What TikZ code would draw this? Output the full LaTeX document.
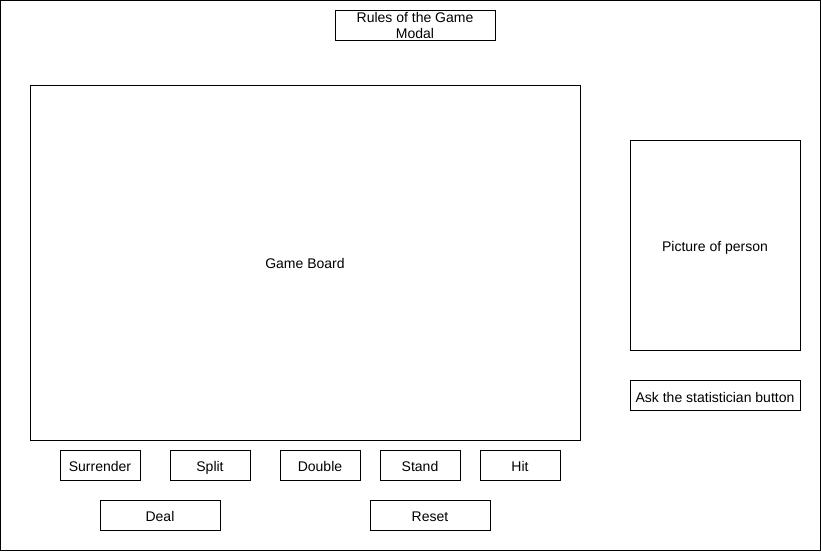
\documentclass[tikz,border=0pt]{standalone}
\usepackage{fontspec}
\setmainfont{Liberation Sans}
\usetikzlibrary{positioning}

\begin{document}
\begin{tikzpicture}[x=1pt,y=-1pt,line width=0.8pt]
\tikzstyle{every node}+=[font=\fontsize{14}{16}\selectfont]
\tikzstyle{box}=[draw=black,rectangle,inner sep=0pt,align=center]
\tikzstyle{label}=[box,text height=12.5pt,text depth=0pt]
\tikzstyle{btn}=[label,minimum width=80pt,minimum height=30pt]
\useasboundingbox (0,0) rectangle (821,551);
\draw [black] (0.5,0.5) rectangle (820.5,550.5);
% header
\node [box,minimum width=160pt,minimum height=30pt] (rules) at (415,25) {Rules of the Game\\Modal};
% main area
\node [label,minimum width=550pt,minimum height=355pt] (board) at (305,262.5) {Game Board};
\node [label,minimum width=170pt,minimum height=210pt] (person) at (715,245) {Picture of person};
\node [label,minimum width=170pt,minimum height=30pt,below=30pt of person] (ask) {Ask the statistician button};
% buttons
\node [btn] (surrender) at (100,465) {Surrender};
\node [btn] (split) at (210,465) {Split};
\node [btn] (double) at (320,465) {Double};
\node [btn] (stand) at (420,465) {Stand};
\node [btn] (hit) at (520,465) {Hit};
\node [btn,minimum width=120pt] (deal) at (160,515) {Deal};
\node [btn,minimum width=120pt] (reset) at (430,515) {Reset};
\end{tikzpicture}
\end{document}
